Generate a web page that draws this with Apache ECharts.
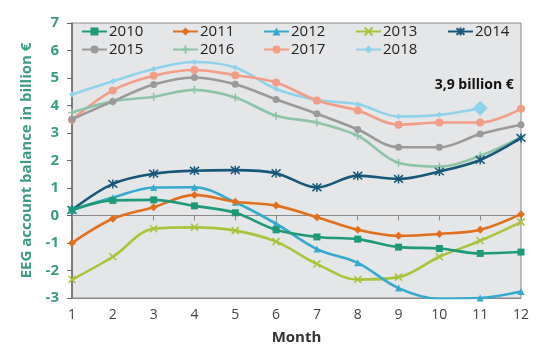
<!DOCTYPE html>
<html><head><meta charset="utf-8">
<script src="https://cdn.jsdelivr.net/npm/echarts@6/dist/echarts.min.js"></script>
<style>html,body{margin:0;padding:0;background:#fff}#c{width:537px;height:345px}</style>
</head><body><div id="c"></div>
<script>
const months = ['1','2','3','4','5','6','7','8','9','10','11','12'];
const yTicks = [-3,-2,-1,0,1,2,3,4,5,6,7];
const names = ['2010','2011','2012','2013','2014','2015','2016','2017','2018'];
const s2010 = [0.2,0.55,0.57,0.35,0.1,-0.52,-0.78,-0.86,-1.15,-1.2,-1.38,-1.33];
const s2011 = [-1.0,-0.12,0.3,0.75,0.5,0.36,-0.06,-0.52,-0.74,-0.67,-0.52,0.05];
const s2012 = [0.2,0.65,1.02,1.03,0.48,-0.3,-1.22,-1.72,-2.64,-3.03,-3.0,-2.76];
const s2013 = [-2.33,-1.5,-0.48,-0.43,-0.55,-0.95,-1.76,-2.33,-2.24,-1.5,-0.92,-0.24];
const s2014 = [0.2,1.15,1.52,1.63,1.65,1.54,1.02,1.45,1.33,1.6,2.02,2.82];
const s2015 = [3.5,4.15,4.76,5.02,4.77,4.22,3.7,3.13,2.48,2.48,2.96,3.3];
const s2016 = [3.75,4.15,4.32,4.57,4.29,3.63,3.38,2.9,1.92,1.78,2.17,2.85];
const s2017 = [3.48,4.55,5.08,5.29,5.1,4.84,4.18,3.82,3.3,3.38,3.38,3.88];
const s2018 = [4.4,4.88,5.33,5.58,5.38,4.6,4.2,4.05,3.6,3.66,3.9];
const annotation = '3,9 billion €';

const colors = ['#1f9a78','#e0701e','#36a9cf','#a7c43a','#17587a','#9a9a9a','#8dc4a7','#f29d85','#8fd2ec'];
const xPath = 'path://M0,0L10,10M10,0L0,10';
const plusPath = 'path://M5,0L5,10M0,5L10,5';
const starPath = 'path://M0,0L10,10M10,0L0,10M5,-1L5,11';
const symbols = ['rect','diamond','triangle',xPath,starPath,'circle',plusPath,'circle','diamond'];
const sizes = [7,8,7,7,9,7,8,8,6];
const dataArr = [s2010,s2011,s2012,s2013,s2014,s2015,s2016,s2017,s2018];

const series = names.map((n,i)=>{
  const stroke = (i===3||i===4||i===6);
  let data = dataArr[i].slice();
  if (i===8) {
    const last = data.length-1;
    data[last] = {value: data[last], symbol:'diamond', symbolSize:15,
      label:{show:true, formatter: annotation, position:'top', distance:9, offset:[-6,0],
        color:'#111', fontWeight:'bold', fontSize:14, fontFamily:'"Open Sans", sans-serif'}};
  }
  return {
    name:n, type:'line', smooth:0.35, data:data,
    symbol:symbols[i], symbolSize:sizes[i], showSymbol:true,
    lineStyle:{width:2.6,color:colors[i]},
    itemStyle:{color:colors[i], borderColor:colors[i], borderWidth: stroke?1.5:0},
    z: 10-i
  };
});

const legendPos = [[81,24],[172,24],[263,24],[355,24],[447,24],[81,42],[172,42],[263,42],[355,42]];
const legends = names.map((n,i)=>({
  data:[n], left:legendPos[i][0], top:legendPos[i][1], padding:0,
  itemWidth:25, itemHeight:10, itemGap:0,
  textStyle:{fontSize:15, color:'#222', fontFamily:'"Open Sans", sans-serif', padding:[0,0,0,-3]}
}));

const chart = echarts.init(document.getElementById('c'));
chart.setOption({
  animation:false,
  backgroundColor:'#fff',
  color:colors,
  grid:{left:72, right:16, top:23, bottom:47, show:true, outerBoundsMode:'none', containLabel:false,
    backgroundColor:'#e5e6e8', borderColor:'#8a8a8a', borderWidth:1},
  legend: legends,
  xAxis:[{
    type:'category', data:months, boundaryGap:false, position:'bottom',
    axisLine:{onZero:false, show:true, lineStyle:{color:'#8a8a8a'}},
    axisTick:{show:false},
    axisLabel:{color:'#444', fontSize:14, margin:10, fontFamily:'"Open Sans", sans-serif'},
    name:'Month', nameLocation:'middle', nameGap:32,
    nameTextStyle:{color:'#333', fontWeight:'bold', fontSize:15, fontFamily:'"Open Sans", sans-serif'},
    splitLine:{show:false}
  },{
    type:'category', data:months, boundaryGap:false, position:'top',
    axisLine:{onZero:true, show:true, lineStyle:{color:'#8a8a8a', width:1}},
    axisTick:{show:true, inside:true, length:5, lineStyle:{color:'#8a8a8a'}},
    axisLabel:{show:false}, splitLine:{show:false}
  }],
  yAxis:{
    type:'value', min:yTicks[0], max:yTicks[yTicks.length-1], interval:1,
    axisLine:{show:true, lineStyle:{color:'#666', width:1.5}},
    axisTick:{show:true, length:5, lineStyle:{color:'#666'}},
    axisLabel:{color:'#3a9c84', fontWeight:'bold', fontSize:15, margin:13, fontFamily:'"Open Sans", sans-serif'},
    splitLine:{show:false},
    name:'EEG account balance in billion €', nameLocation:'middle', nameGap:33,
    nameTextStyle:{color:'#3a9c84', fontWeight:'bold', fontSize:15, fontFamily:'"Open Sans", sans-serif'}
  },
  series: series
});
</script></body></html>
